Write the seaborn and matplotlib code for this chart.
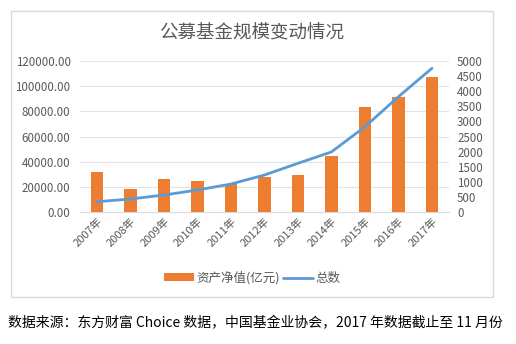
import matplotlib
matplotlib.use("Agg")
import matplotlib.pyplot as plt
import seaborn as sns
import pandas as pd
from matplotlib.patches import Rectangle
from matplotlib.lines import Line2D
from matplotlib.patches import Patch

years = ["2007年", "2008年", "2009年", "2010年", "2011年", "2012年",
         "2013年", "2014年", "2015年", "2016年", "2017年"]
net_assets = [32000, 18200, 26500, 24800, 22300, 28200, 29600, 44800, 83400, 91500, 107500]
fund_count = [341, 430, 563, 728, 927, 1225, 1612, 1990, 2825, 3820, 4760]
left_ticks = [0, 20000, 40000, 60000, 80000, 100000, 120000]
right_ticks = [0, 500, 1000, 1500, 2000, 2500, 3000, 3500, 4000, 4500, 5000]

sns.set_style("white")
plt.rcParams['font.family'] = ['Noto Sans CJK SC', 'DejaVu Sans']

df = pd.DataFrame({"year": years, "assets": net_assets, "count": fund_count})

fig = plt.figure(figsize=(5.16, 3.44), dpi=100)
ax = fig.add_axes([80.25/516, 1-212/344, (448.75-80.25)/516, (212-61)/344])

orange = "#ED7D31"
blue = "#5B9BD5"
grey = "#595959"

sns.barplot(data=df, x="year", y="assets", color=orange, width=0.38,
            saturation=1, ax=ax, zorder=3, linewidth=0)
ax.set_ylim(0, 120000)
ax.set_yticks(left_ticks)
ax.set_yticklabels([f"{v:.2f}" for v in left_ticks], fontsize=8.3, color=grey)
ax.set_xlim(-0.5, 10.5)
ax.set_xlabel("")
ax.set_ylabel("")
ax.grid(axis="y", color="#E3E3E3", linewidth=0.8, zorder=0)
ax.set_axisbelow(True)
for s in ax.spines.values():
    s.set_visible(False)
ax.spines["bottom"].set_visible(True)
ax.spines["bottom"].set_color("#D9D9D9")
ax.tick_params(axis="y", length=0, pad=7)
ax.tick_params(axis="x", length=0, labelsize=8, labelcolor=grey, pad=3)
for lab in ax.get_xticklabels():
    lab.set_rotation(45)
    lab.set_ha("right")
    lab.set_rotation_mode("anchor")

ax2 = ax.twinx()
sns.lineplot(data=df, x="year", y="count", color=blue, linewidth=2.0, ax=ax2,
             sort=False, zorder=4)
ax2.set_ylim(0, 5000)
ax2.set_yticks(right_ticks)
ax2.set_yticklabels([str(v) for v in right_ticks], fontsize=8.3, color=grey)
ax2.set_ylabel("")
ax2.set_xlabel("")
for s in ax2.spines.values():
    s.set_visible(False)
ax2.tick_params(axis="y", length=0, pad=6)
ax2.set_xlim(-0.5, 10.5)

fig.text(252/516, 1-33/344, "公募基金规模变动情况", ha="center", va="center",
         fontsize=13.3, color=grey)

handles = [Patch(facecolor=orange, edgecolor="none"),
           Line2D([0], [0], color=blue, linewidth=2.0)]
fig.legend(handles, ["资产净值(亿元)", "总数"], loc="center",
           bbox_to_anchor=(252/516, 1-278/344), ncol=2, frameon=False,
           fontsize=9, labelcolor=grey, handlelength=2.4, handletextpad=0.2,
           columnspacing=0.2, handleheight=0.6)

fig.patches.append(Rectangle((11/516, 1-297/344), (493-11)/516, (297-11)/344,
                             transform=fig.transFigure, fill=False,
                             edgecolor="#D9D9D9", linewidth=1.0))

fig.text(8/516, 1-323/344,
         "数据来源：东方财富 Choice 数据，中国基金业协会，2017 年数据截止至 11 月份",
         ha="left", va="center", fontsize=10, color="black")

fig.savefig("out.png", dpi=100)
